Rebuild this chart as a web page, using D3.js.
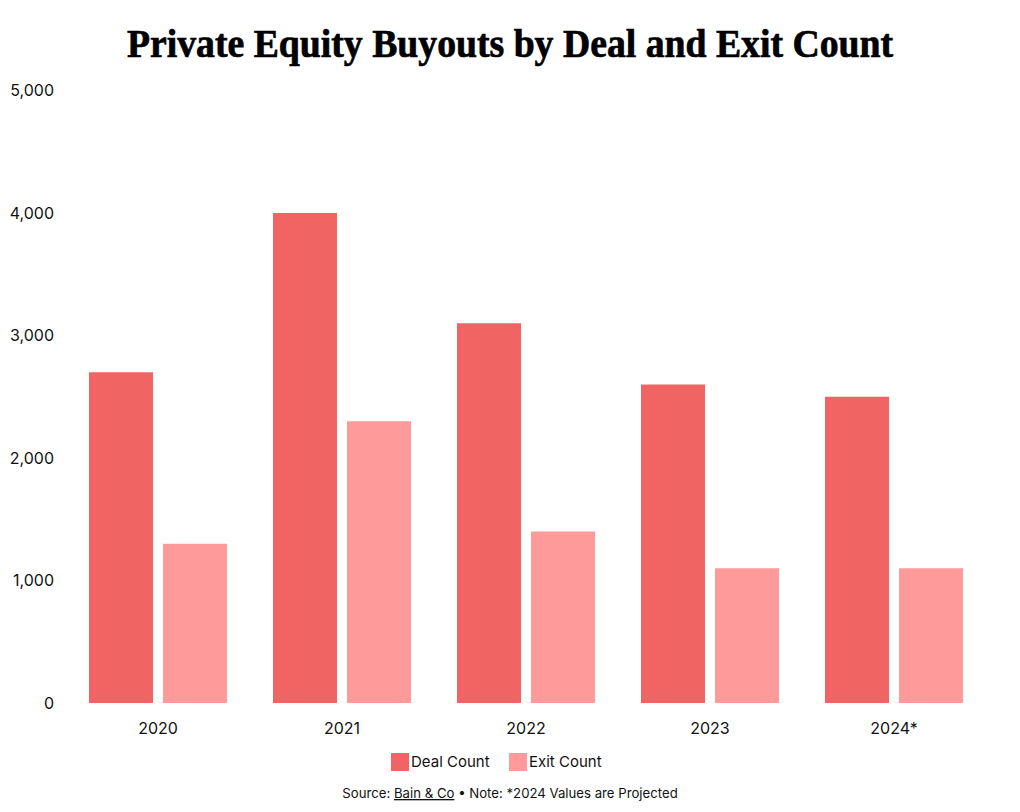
<!DOCTYPE html>
<html><head><meta charset="utf-8">
<script src="https://cdn.jsdelivr.net/npm/d3@7"></script>
<style>body{margin:0;background:#fff}svg{display:block}</style>
</head><body>
<svg id="c" width="1020" height="812"></svg>
<script>
const years = ["2020","2021","2022","2023","2024*"];
const series = ["Deal Count","Exit Count"];
const dealCount = [2700,4000,3100,2600,2500];
const exitCount = [1300,2300,1400,1100,1100];
const yTicks = [0,1000,2000,3000,4000,5000];
const colors = ["#f06464","#ff9a9a"];

const svg = d3.select("#c");
const font = "Inter, 'Noto Sans', sans-serif";
const x0 = d3.scaleBand().domain(years).range([66,986]).paddingInner(0.25).paddingOuter(0.125);
const x1 = d3.scaleBand().domain(series).range([0,x0.bandwidth()]).paddingInner(10/74).paddingOuter(0);
const y = d3.scaleLinear().domain([0,5000]).range([703,90.5]);

const data = years.map((yr,i)=>({year:yr, vals:[dealCount[i],exitCount[i]]}));

svg.append("text").attr("x",510).attr("y",57).attr("text-anchor","middle")
  .attr("font-family","'Liberation Serif', serif").attr("font-weight","bold").attr("font-size",40)
  .attr("textLength",766).attr("lengthAdjust","spacingAndGlyphs").attr("fill","#000")
  .attr("stroke","#000").attr("stroke-width",0.7)
  .text("Private Equity Buyouts by Deal and Exit Count");

const g = svg.selectAll("g.grp").data(data).enter().append("g")
  .attr("transform",d=>`translate(${x0(d.year)},0)`);
g.selectAll("rect").data(d=>d.vals.map((v,j)=>({s:series[j],v,j}))).enter().append("rect")
  .attr("x",d=>x1(d.s)).attr("width",x1.bandwidth())
  .attr("y",d=>y(d.v)).attr("height",d=>y(0)-y(d.v)).attr("fill",d=>colors[d.j]);

const yAxis = d3.axisLeft(y).tickValues(yTicks).tickFormat(d3.format(",")).tickSize(0).tickPadding(0);
const ya = svg.append("g").attr("transform","translate(54,0)").call(yAxis);
ya.select(".domain").remove();
ya.selectAll("text").attr("font-family",font).attr("font-size",16).attr("fill","#111");

const xAxis = d3.axisBottom(x0).tickSize(0).tickPadding(0);
const xa = svg.append("g").attr("transform","translate(0,723)").call(xAxis);
xa.select(".domain").remove();
xa.selectAll("text").attr("font-family",font).attr("font-size",16).attr("fill","#111");

const leg = svg.append("g");
const legX = [391,509];
series.forEach((s,i)=>{
  leg.append("rect").attr("x",legX[i]).attr("y",753).attr("width",18).attr("height",18).attr("fill",colors[i]);
  leg.append("text").attr("x",legX[i]+20).attr("y",767).attr("font-family",font).attr("font-size",15).attr("fill","#111").text(s);
});

const src = svg.append("text").attr("x",510).attr("y",798).attr("text-anchor","middle")
  .attr("font-family",font).attr("font-size",13.2).attr("fill","#111");
src.append("tspan").text("Source: ");
src.append("tspan").attr("text-decoration","underline").text("Bain & Co");
src.append("tspan").text(" • Note: *2024 Values are Projected");
</script>
</body></html>
